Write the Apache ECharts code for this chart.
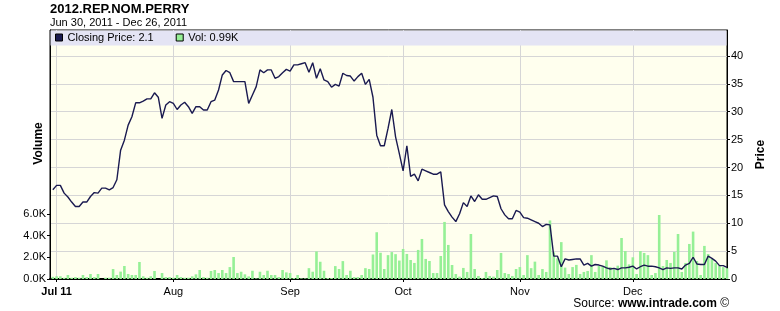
<!DOCTYPE html>
<html><head><meta charset="utf-8">
<script src="https://cdn.jsdelivr.net/npm/echarts@6/dist/echarts.min.js"></script>
<style>html,body{margin:0;padding:0;background:#fff}#c{width:780px;height:311px}</style>
</head><body><div id="c"></div>
<script>
// ---- data ----
const firstDay = [2011, 5, 30]; // Jun 30, 2011 (UTC), one value per day to Dec 26, 2011
const monthStarts = ['2011-07-01', '2011-08-01', '2011-09-01', '2011-10-01', '2011-11-01', '2011-12-01'];
const monthLabels = ['Jul 11', 'Aug', 'Sep', 'Oct', 'Nov', 'Dec'];
const priceTicks = [0, 5, 10, 15, 20, 25, 30, 35, 40];
const volumeTicks = [0, 2, 4, 6]; // thousands

const closingPrice = [
  16.0,
  16.8,16.8,15.4,14.7,13.8,13.0,13.0,13.8,13.8,14.8,15.5,15.4,16.3,16.3,16.0,16.4,17.8,23.1,24.9,27.6,29.1,31.6,31.6,31.9,32.3,32.3,33.4,32.6,28.8,31.2,31.8,
  31.5,30.4,31.2,31.7,30.9,29.7,30.9,30.9,30.3,30.3,31.8,32.1,33.9,36.6,37.4,37.0,35.4,35.4,35.4,35.4,31.5,33.0,34.5,37.5,37.0,37.5,37.5,36.0,36.3,37.0,37.6,
  37.3,38.4,38.4,38.6,38.8,37.1,38.8,36.0,37.7,35.7,35.4,34.4,34.9,34.6,36.9,36.5,36.4,35.5,36.3,36.9,34.9,35.8,32.6,25.8,23.9,23.9,27.0,30.4,25.5,22.5,
  19.4,23.9,18.4,18.8,17.6,19.7,19.4,19.1,18.8,18.8,19.2,13.3,12.1,11.1,10.3,11.7,13.7,13.0,14.9,13.9,15.1,14.3,14.3,14.6,14.9,14.8,12.6,11.5,10.8,10.8,12.3,
  12.0,11.0,10.9,10.6,10.3,10.0,9.4,9.8,9.7,4.1,4.1,2.2,3.6,3.4,3.5,3.6,3.6,2.5,2.8,2.3,2.6,2.5,2.3,2.0,1.8,1.9,1.7,2.0,2.0,2.1,
  2.3,1.8,2.2,2.5,2.3,2.3,2.2,2.0,1.7,2.0,1.9,2.0,2.0,1.8,2.5,2.8,3.9,2.7,2.6,2.6,4.1,3.7,3.2,2.4,2.4,2.1
];
const volumeK = [
  0.2,
  0.25,0.25,0.12,0.37,0.12,0.18,0.12,0.37,0.18,0.46,0.18,0.46,0,0.12,0.12,0.92,0.37,0.68,1.2,0.46,0.37,0.37,1.57,0.25,0.12,0.25,0.74,0,0.55,0.18,0.18,
  0.12,0.37,0.18,0.12,0.12,0.25,0.43,0.83,0.18,0.12,0.74,0.83,0.55,0.83,0.55,1.1,2.03,0.55,0.67,0.43,0.24,0.76,0.06,0.67,0.37,0.76,0.37,0.37,0.18,0.83,0.61,
  0.55,0.09,0.37,0.06,0.06,1.0,0.67,2.54,1.59,0.76,0.09,0.09,1.19,0.92,1.65,0.37,0.76,0.18,0.18,0.37,1.0,0.92,2.26,4.31,2.42,0.92,2.2,2.48,2.29,1.7,
  2.77,2.31,1.75,1.48,2.68,3.69,1.85,1.66,0.55,0.55,2.12,5.26,3.14,1.29,0.46,0.22,1.02,0.65,4.15,0.92,0.28,0.09,0.65,0.28,0.22,0.83,2.4,0.55,0.46,0.28,0.92,
  1.1,0.37,2.2,1.0,1.6,0.37,0.92,0.65,5.4,2.46,1.9,3.4,1.05,0.46,1.1,1.3,0.46,0.65,0.74,2.2,0.65,1.2,1.2,1.72,1.1,0.9,1.23,3.78,2.58,1.35,
  2.0,0.46,2.58,2.4,2.2,0.37,0.55,5.9,1.2,1.75,1.48,2.5,4.15,0.65,1.48,3.23,4.37,1.66,0.37,3.05,2.3,1.85,1.48,1.23,1.1,0.99
];

// ---- build ----
const DAY = 86400000;
const t0 = Date.UTC(firstDay[0], firstDay[1], firstDay[2]);
const days = closingPrice.map((_, i) => t0 + i * DAY);
const monthTs = monthStarts.map(s => Date.parse(s));
const priceData = days.map((d, i) => [d, closingPrice[i]]);
const volData = days.map((d, i) => [d, volumeK[i]]);
const lastPrice = closingPrice[closingPrice.length - 1];
const lastVol = volumeK[volumeK.length - 1];

const FONT = '"Liberation Sans", Arial, sans-serif';
const chart = echarts.init(document.getElementById('c'), null, {renderer: 'canvas'});
chart.setOption({
  animation: false,
  backgroundColor: '#ffffff',
  textStyle: {fontFamily: FONT},
  grid: {left: 50, right: 53, top: 30, bottom: 32, show: true, backgroundColor: '#ffffee', borderColor: '#000', borderWidth: 1},
  legend: {
    left: 55, top: 32, padding: 0, itemGap: 22, itemWidth: 7, itemHeight: 7, icon: 'rect', z: 20,
    itemStyle: {borderColor: '#000', borderWidth: 1},
    textStyle: {fontFamily: FONT, fontSize: 11, color: '#000'},
    data: ['Closing Price: ' + lastPrice, 'Vol: ' + lastVol + 'K']
  },
  xAxis: {
    type: 'value',
    min: Date.UTC(2011, 5, 29, 6), max: Date.UTC(2011, 11, 26),
    axisLine: {show: true, onZero: false, lineStyle: {color: '#000', width: 2}},
    axisTick: {show: true, length: 3, lineStyle: {color: '#000'}, customValues: monthTs},
    axisLabel: {
      customValues: monthTs, color: '#000', fontSize: 11, margin: 7, fontFamily: FONT,
      formatter: function (v) {
        let idx = monthTs.findIndex(m => Math.abs(m - v) < DAY / 2);
        const s = idx >= 0 ? monthLabels[idx] : '';
        return idx === 0 ? '{b|' + s + '}' : s;
      },
      rich: {b: {fontWeight: 'bold', fontSize: 11, fontFamily: FONT, color: '#000'}}
    },
    splitLine: {show: true, lineStyle: {color: '#d6d6d6', width: 1}}
  },
  yAxis: [{
    type: 'value', position: 'left', min: 0, max: 22.95,
    name: 'Volume', nameLocation: 'middle', nameRotate: 90, nameGap: 5, nameMoveOverlap: false,
    nameTextStyle: {fontWeight: 'bold', fontSize: 12, color: '#000', fontFamily: FONT, padding: [0, 0, 0, 22]},
    axisLine: {show: true, onZero: false, lineStyle: {color: '#000', width: 1}},
    axisTick: {show: true, length: 3, lineStyle: {color: '#000'}, customValues: volumeTicks},
    axisLabel: {customValues: volumeTicks, color: '#000', fontSize: 11, margin: 4, fontFamily: FONT,
      formatter: v => v.toFixed(1) + 'K'},
    splitLine: {show: false}
  }, {
    type: 'value', position: 'right', min: 0, max: 44.66, interval: 5,
    name: 'Price', nameLocation: 'middle', nameRotate: 90, nameGap: 28, nameMoveOverlap: false,
    nameTextStyle: {fontWeight: 'bold', fontSize: 12, color: '#000', fontFamily: FONT},
    axisLine: {show: true, onZero: false, lineStyle: {color: '#000', width: 1}},
    axisTick: {show: true, length: 3, lineStyle: {color: '#000'}, customValues: priceTicks},
    axisLabel: {customValues: priceTicks, color: '#000', fontSize: 11, margin: 4, fontFamily: FONT},
    splitLine: {show: true, lineStyle: {color: '#d6d6d6', width: 1}}
  }],
  series: [{
    name: 'Vol: ' + lastVol + 'K', type: 'bar', yAxisIndex: 0, data: volData,
    barWidth: 2.6, itemStyle: {color: '#96f096'}, z: 2
  }, {
    name: 'Closing Price: ' + lastPrice, type: 'line', yAxisIndex: 1, data: priceData,
    symbol: 'none', itemStyle: {color: '#1a1a50'}, lineStyle: {color: '#1a1a50', width: 1.4}, z: 3
  }],
  graphic: [
    {type: 'rect', z: 10, silent: true, shape: {x: 50.5, y: 30.5, width: 676, height: 15}, style: {fill: '#e4e4f4'}},
    {type: 'text', left: 50, top: 3, style: {text: '2012.REP.NOM.PERRY', font: 'bold 13px ' + FONT, fill: '#000'}},
    {type: 'text', left: 50, top: 17, style: {text: 'Jun 30, 2011 - Dec 26, 2011', font: '11px ' + FONT, fill: '#000'}},
    {type: 'text', right: 51, top: 298, style: {
      text: '{r|Source: }{b|www.intrade.com} {r|©}',
      rich: {r: {font: '12px ' + FONT, fill: '#000'}, b: {font: 'bold 12px ' + FONT, fill: '#000'}}
    }}
  ]
});
</script>
</body></html>
